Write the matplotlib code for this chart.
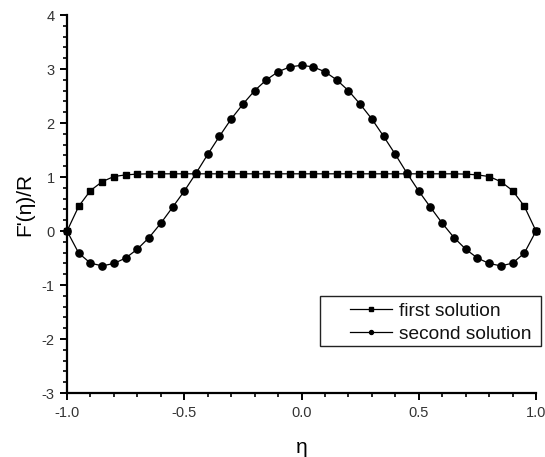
import matplotlib
matplotlib.use("Agg")
import matplotlib.pyplot as plt
from matplotlib.ticker import MultipleLocator, FormatStrFormatter
from matplotlib.patches import Rectangle

eta = [-1.00, -0.95, -0.90, -0.85, -0.80, -0.75, -0.70, -0.65, -0.60, -0.55,
       -0.50, -0.45, -0.40, -0.35, -0.30, -0.25, -0.20, -0.15, -0.10, -0.05,
       0.00, 0.05, 0.10, 0.15, 0.20, 0.25, 0.30, 0.35, 0.40, 0.45,
       0.50, 0.55, 0.60, 0.65, 0.70, 0.75, 0.80, 0.85, 0.90, 0.95, 1.00]

first_solution = [0.00, 0.46, 0.75, 0.915, 1.01, 1.04, 1.055, 1.06, 1.06, 1.06,
                  1.06, 1.06, 1.06, 1.06, 1.06, 1.06, 1.06, 1.06, 1.06, 1.06,
                  1.06, 1.06, 1.06, 1.06, 1.06, 1.06, 1.06, 1.06, 1.06, 1.06,
                  1.06, 1.06, 1.06, 1.06, 1.055, 1.04, 1.01, 0.915, 0.75, 0.46, 0.00]

second_solution = [0.00, -0.41, -0.595, -0.645, -0.60, -0.50, -0.335, -0.12, 0.145, 0.44,
                   0.74, 1.07, 1.42, 1.755, 2.075, 2.35, 2.60, 2.80, 2.95, 3.04,
                   3.07, 3.04, 2.95, 2.80, 2.60, 2.35, 2.075, 1.755, 1.42, 1.07,
                   0.74, 0.44, 0.145, -0.12, -0.335, -0.50, -0.60, -0.645, -0.595, -0.41, 0.00]

series_labels = ["first solution", "second solution"]
x_label = "η"
y_label = "F'(η)/R"

plt.rcParams['font.family'] = ['Liberation Sans', 'DejaVu Sans']

fig = plt.figure(figsize=(5.45, 4.57), dpi=100)
ax = fig.add_axes([0.123, 0.140, 0.8605, 0.827])

ax.plot(eta, first_solution, color='black', lw=0.9, marker='s', ms=4.8,
        label=series_labels[0], clip_on=False, zorder=3)
ax.plot(eta, second_solution, color='black', lw=0.9, marker='o', ms=5.2,
        label=series_labels[1], clip_on=False, zorder=3)

ax.set_xlim(-1.0, 1.0)
ax.set_ylim(-3, 4)
ax.xaxis.set_major_locator(MultipleLocator(0.5))
ax.xaxis.set_minor_locator(MultipleLocator(0.1))
ax.yaxis.set_major_locator(MultipleLocator(1))
ax.yaxis.set_minor_locator(MultipleLocator(0.2))
ax.xaxis.set_major_formatter(FormatStrFormatter('%.1f'))
ax.yaxis.set_major_formatter(FormatStrFormatter('%d'))

for s in ['top', 'right']:
    ax.spines[s].set_visible(False)
for s in ['left', 'bottom']:
    ax.spines[s].set_linewidth(1.6)

ax.tick_params(which='major', direction='out', length=5, width=1.4,
               labelsize=10.5, labelcolor='#333333', pad=4)
ax.tick_params(which='minor', direction='out', length=3, width=1.2)

ax.set_xlabel(x_label, fontsize=15, labelpad=13)
ax.set_ylabel(y_label, fontsize=15, labelpad=5)

# legend frame
frame = Rectangle((0.539, 0.124), 0.471, 0.134, transform=ax.transAxes,
                  fill=False, edgecolor='#222222', lw=1.0, clip_on=False, zorder=4)
ax.add_patch(frame)

leg = ax.legend(loc='center left', bbox_to_anchor=(0.6034, 0.186),
                borderaxespad=0, borderpad=0, fontsize=13.8, frameon=False,
                handlelength=2.2, markerscale=0.55, labelspacing=0.3,
                handletextpad=0.34)
for t in leg.get_texts():
    t.set_color('#111111')

fig.savefig("out.png", dpi=100)
